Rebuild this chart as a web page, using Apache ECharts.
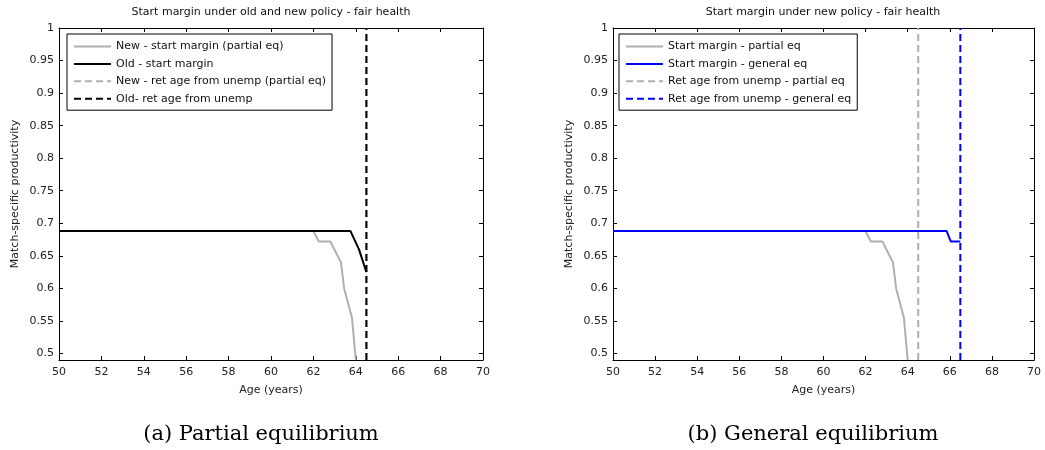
<!DOCTYPE html>
<html>
<head>
<meta charset="utf-8">
<script src="https://cdn.jsdelivr.net/npm/echarts@6/dist/echarts.min.js"></script>
<style>
html,body{margin:0;padding:0;background:#fff;}
#chart{width:1045px;height:450px;}
</style>
</head>
<body>
<div id="chart"></div>
<script>
// ---- data ----
const ageTicks = [50, 52, 54, 56, 58, 60, 62, 64, 66, 68, 70];
const prodTicks = [0.5, 0.55, 0.6, 0.65, 0.7, 0.75, 0.8, 0.85, 0.9, 0.95, 1];

// partial-equilibrium start margin under new policy
const newStartAge = [50, 62.0, 62.25, 62.8, 63.3, 63.45, 63.82, 64.0];
const newStartVal = [0.688, 0.688, 0.672, 0.672, 0.64, 0.6, 0.555, 0.49];
// start margin under old policy
const oldStartAge = [50, 63.75, 64.15, 64.5];
const oldStartVal = [0.688, 0.688, 0.66, 0.625];
// general-equilibrium start margin under new policy
const genStartAge = [50, 65.85, 66.05, 66.5];
const genStartVal = [0.688, 0.688, 0.672, 0.672];
// retirement ages from unemployment (vertical lines)
const retAgeNewPartial = 64.5;
const retAgeOld = 64.5;
const retAgeGeneral = 66.5;
const yRange = [0.49, 1];

const titles = ['Start margin under old and new policy - fair health', 'Start margin under new policy - fair health'];
const captions = ['(a) Partial equilibrium', '(b) General equilibrium'];
const namesA = ['New - start margin (partial eq)', 'Old - start margin', 'New - ret age from unemp (partial eq)', 'Old- ret age from unemp'];
const namesB = ['Start margin - partial eq', 'Start margin - general eq', 'Ret age from unemp - partial eq', 'Ret age from unemp - general eq'];

// ---- helpers ----
const zip = (xs, ys) => xs.map((x, i) => [x, ys[i]]);
const vline = x => [[x, yRange[0]], [x, yRange[1]]];
const FONT = '"DejaVu Sans", Verdana, sans-serif';
const GREY = '#b0b0b0';
const TXT = '#222';

const grids = [
  {left: 59, right: 562, top: 28, bottom: 90},
  {left: 613, right: 11, top: 28, bottom: 90}
];

function xAxes(gi) {
  const base = {gridIndex: gi, type: 'value', min: ageTicks[0], max: ageTicks[ageTicks.length - 1], interval: 2,
    axisLine: {show: true, lineStyle: {color: '#000', width: 1}},
    axisTick: {show: true, inside: true, length: 4, lineStyle: {color: '#000'}},
    splitLine: {show: false}};
  return [
    Object.assign({}, base, {position: 'bottom', name: 'Age (years)', nameLocation: 'middle', nameGap: 25,
      nameTextStyle: {fontFamily: FONT, fontSize: 11, color: TXT},
      axisLabel: {fontFamily: FONT, fontSize: 11, color: TXT, margin: 7}}),
    Object.assign({}, base, {position: 'top', axisLabel: {show: false}})
  ];
}
function yAxes(gi) {
  const base = {gridIndex: gi, type: 'value', min: yRange[0], max: yRange[1],
    axisLine: {show: true, lineStyle: {color: '#000', width: 1}},
    axisTick: {show: true, inside: true, length: 4, customValues: prodTicks, lineStyle: {color: '#000'}},
    splitLine: {show: false}};
  return [
    Object.assign({}, base, {position: 'left', name: 'Match-specific productivity', nameLocation: 'middle', nameGap: 38,
      nameTextStyle: {fontFamily: FONT, fontSize: 11, color: TXT},
      axisLabel: {fontFamily: FONT, fontSize: 11, color: TXT, margin: 5, customValues: prodTicks}}),
    Object.assign({}, base, {position: 'right', axisLabel: {show: false}})
  ];
}

function line(name, data, gi, color, dashed) {
  return {name, type: 'line', xAxisIndex: gi * 2, yAxisIndex: gi * 2, data,
    symbol: 'none', showSymbol: false, clip: true, animation: false,
    lineStyle: {color, width: 2, type: dashed ? [7, 4] : 'solid'},
    itemStyle: {color, opacity: 0}};
}

function legend(names, left) {
  return {orient: 'vertical', left, top: 34, data: names,
    backgroundColor: '#fff', borderColor: '#000', borderWidth: 1, borderRadius: 0,
    padding: [7, 6, 6, 6], itemWidth: 37, itemHeight: 12, itemGap: 6.4,
    itemStyle: {opacity: 0},
    textStyle: {fontFamily: FONT, fontSize: 11, color: '#111'},
    selectedMode: false};
}

const titleStyle = {fontFamily: FONT, fontSize: 11, fontWeight: 'normal', color: '#111'};
const capFont = '21px "DejaVu Serif", "Liberation Serif", serif';

const option = {
  backgroundColor: '#fff',
  animation: false,
  title: [
    {text: titles[0], left: 271, top: 7, padding: 0, textAlign: 'center', textStyle: titleStyle},
    {text: titles[1], left: 823, top: 7, padding: 0, textAlign: 'center', textStyle: titleStyle}
  ],
  grid: grids,
  xAxis: [...xAxes(0), ...xAxes(1)],
  yAxis: [...yAxes(0), ...yAxes(1)],
  legend: [legend(namesA, 67), legend(namesB, 619)],
  series: [
    line(namesA[0], zip(newStartAge, newStartVal), 0, GREY, false),
    line(namesA[2], vline(retAgeNewPartial), 0, GREY, true),
    line(namesA[1], zip(oldStartAge, oldStartVal), 0, '#000', false),
    line(namesA[3], vline(retAgeOld), 0, '#000', true),
    line(namesB[0], zip(newStartAge, newStartVal), 1, GREY, false),
    line(namesB[2], vline(retAgeNewPartial), 1, GREY, true),
    line(namesB[1], zip(genStartAge, genStartVal), 1, '#0000ff', false),
    line(namesB[3], vline(retAgeGeneral), 1, '#0000ff', true)
  ],
  graphic: [
    {type: 'text', x: 261, y: 435, style: {text: captions[0], font: capFont, fill: '#000', align: 'center', verticalAlign: 'middle'}},
    {type: 'text', x: 813, y: 435, style: {text: captions[1], font: capFont, fill: '#000', align: 'center', verticalAlign: 'middle'}}
  ]
};

const chart = echarts.init(document.getElementById('chart'), null, {renderer: 'canvas'});
chart.setOption(option);
</script>
</body>
</html>
